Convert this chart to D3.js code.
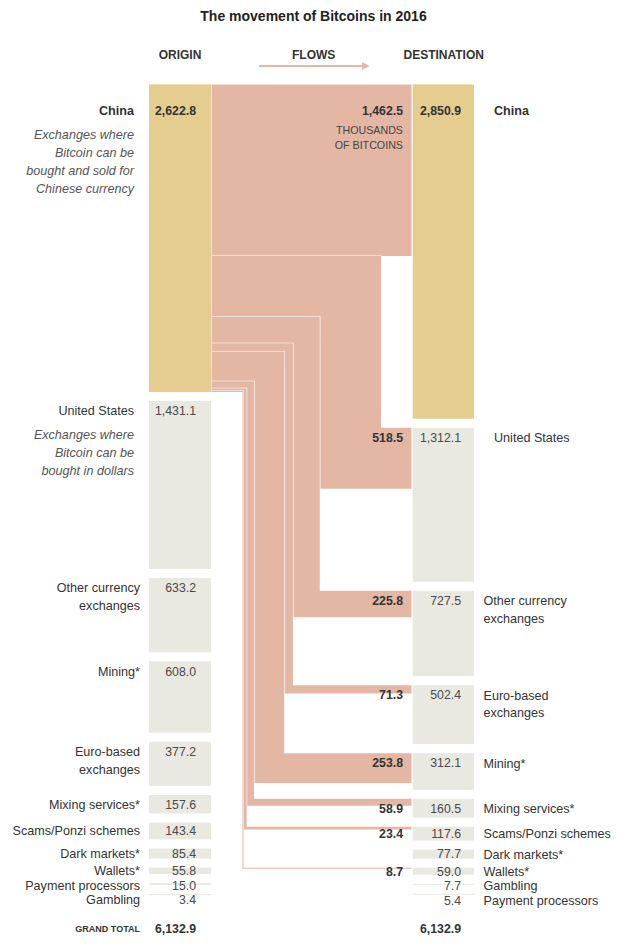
<!DOCTYPE html>
<html>
<head>
<meta charset="utf-8">
<script src="https://cdn.jsdelivr.net/npm/d3@7"></script>
<style>
    body { margin: 0; background: #fff; }
    text { font-family: "Liberation Sans", Arial, sans-serif; fill: #333; }
</style>
</head>
<body>
<div id="chart-container"></div>
<script>
// Origins of bitcoins (thousands), top to bottom. "|" marks a line break.
const originNames = ["China", "United States", "Other currency|exchanges", "Mining*",
    "Euro-based|exchanges", "Mixing services*", "Scams/Ponzi schemes", "Dark markets*",
    "Wallets*", "Payment processors", "Gambling"];
const originValues = [2622.8, 1431.1, 633.2, 608.0, 377.2, 157.6, 143.4, 85.4, 55.8, 15.0, 3.4];

// Destinations, top to bottom.
const destNames = ["China", "United States", "Other currency|exchanges", "Euro-based|exchanges",
    "Mining*", "Mixing services*", "Scams/Ponzi schemes", "Dark markets*", "Wallets*",
    "Gambling", "Payment processors"];
const destValues = [2850.9, 1312.1, 727.5, 502.4, 312.1, 160.5, 117.6, 77.7, 59.0, 7.7, 5.4];

// Flows out of China, in the order they leave the China bar.
const flowTargets = ["China", "United States", "Other currency|exchanges", "Euro-based|exchanges",
    "Mining*", "Mixing services*", "Scams/Ponzi schemes", "Wallets*"];
const flowValues = [1462.5, 518.5, 225.8, 71.3, 253.8, 58.9, 23.4, 8.7];

const descriptions = {
    "China": ["Exchanges where", "Bitcoin can be", "bought and sold for", "Chinese currency"],
    "United States": ["Exchanges where", "Bitcoin can be", "bought in dollars"]
};

const grandTotal = 6132.9;
const headers = ["ORIGIN", "FLOWS", "DESTINATION"];

const chartWidth = 627;
const chartHeight = 945;
const barsTop = 84.4;
const barGap = 9.07;
const fontSize = 12.3;
const labelSize = 12.6;

const colorChina = "#e5cd90";
const colorOther = "#e9e8e1";
const colorFlow = "#e4b7a5";

// Origin and destination columns.
const originX0 = 149, originX1 = 211;
const destX0 = 412.7, destX1 = 474;

// Bar height scale.
const h = d3.scaleLinear()
    .domain([0, grandTotal])
    .range([0, 719.3]);

const fmt = d3.format(",.1f");

function stack(names, values) {
    let y = barsTop;
    return names.map((name, i) => {
        const node = {name: name, value: values[i], y0: y, y1: y + h(values[i])};
        y = node.y1 + barGap;
        return node;
    });
}

// Text rows: near the top of each bar, pushed down so small bars don't collide.
function placeText(nodes) {
    let prev = -Infinity;
    nodes.forEach((n, i) => {
        let ty = i === 0 ? n.y0 + 26.5 : n.y0 + Math.min(10, (n.y1 - n.y0) / 2);
        ty = Math.max(ty, prev + 14.5);
        n.ty = ty;
        prev = ty;
    });
}

const origins = stack(originNames, originValues);
const dests = stack(destNames, destValues);
placeText(origins);
placeText(dests);

const chart = d3.select("#chart-container").append("svg")
    .attr("width", chartWidth)
    .attr("height", chartHeight);

// Title and headers.
chart.append("text")
    .attr("x", 313.5).attr("y", 16).attr("dy", "0.35em")
    .attr("text-anchor", "middle")
    .style("font-size", "14px").style("font-weight", "bold").style("fill", "#222")
    .text("The movement of Bitcoins in 2016");

const headerX = [180, 313.7, 443.7];
chart.selectAll(".header")
    .data(headers)
    .enter()
    .append("text")
    .attr("class", "header")
    .attr("x", (d, i) => headerX[i])
    .attr("y", 55).attr("dy", "0.35em")
    .attr("text-anchor", "middle")
    .style("font-size", "12px").style("font-weight", "bold")
    .text(d => d);

// Arrow under FLOWS.
chart.append("line")
    .attr("x1", 259).attr("x2", 363).attr("y1", 66).attr("y2", 66)
    .attr("stroke", colorFlow).attr("stroke-width", 2);
chart.append("path")
    .attr("d", "M 362 62 L 369.5 66 L 362 70 Z")
    .attr("fill", colorFlow);

// Flows: the first runs straight across, the rest bend down, nested inside each other.
const sourceNode = origins[0];
let sy = sourceNode.y0;
let outerX = 381;
const flowX0 = originX1 + 0.5;
const flowX1 = destX0 - 1.2;
const flows = flowValues.map((v, i) => {
    const target = dests.find(d => d.name === flowTargets[i]);
    const w = h(v);
    const f = {value: v, w: w, target: target, sy0: sy, sy1: sy + w};
    sy += w;
    const sm = f.sy0 + w / 2;
    const tm = target.y0 + w / 2;
    if (i === 0) {
        f.points = [[flowX0, sm], [flowX1, tm]];
    } else {
        f.points = [[flowX0, sm], [outerX - w / 2, sm], [outerX - w / 2, tm], [flowX1, tm]];
        outerX -= w + 0.4;
    }
    return f;
});

const line = d3.line();

const flowGroups = chart.selectAll(".flow")
    .data(flows)
    .enter()
    .append("g")
    .attr("class", "flow");

flowGroups.append("path")
    .attr("d", d => line(d.points))
    .attr("fill", "none")
    .attr("stroke", "#fff")
    .attr("stroke-width", d => d.w + 1)
    .attr("stroke-linejoin", "miter");

flowGroups.append("path")
    .attr("d", d => line(d.points))
    .attr("fill", "none")
    .attr("stroke", colorFlow)
    .attr("stroke-width", d => Math.max(d.w, 1))
    .attr("stroke-linejoin", "miter");

flowGroups.append("text")
    .attr("x", destX0 - 9.7)
    .attr("y", d => d.target.ty).attr("dy", "0.35em")
    .attr("text-anchor", "end")
    .style("font-size", fontSize + "px").style("font-weight", "bold")
    .text(d => fmt(d.value));

chart.selectAll(".unit")
    .data(["THOUSANDS", "OF BITCOINS"])
    .enter()
    .append("text")
    .attr("class", "unit")
    .attr("x", destX0 - 9.7)
    .attr("y", (d, i) => dests[0].ty + 19 + i * 15.5).attr("dy", "0.35em")
    .attr("text-anchor", "end")
    .style("font-size", "10.7px").style("fill", "#444")
    .text(d => d);

// Bars, values and labels for one column.
function drawColumn(nodes, x0, x1, side) {
    const g = chart.append("g").attr("class", side);

    g.selectAll("rect")
        .data(nodes)
        .enter()
        .append("rect")
        .attr("x", x0)
        .attr("y", d => d.y0)
        .attr("width", x1 - x0)
        .attr("height", d => Math.max(d.y1 - d.y0, 1))
        .attr("fill", d => d.name === "China" ? colorChina : colorOther);

    g.selectAll(".value")
        .data(nodes)
        .enter()
        .append("text")
        .attr("class", "value")
        .attr("x", x1 - (side === "origin" ? 15 : 13))
        .attr("y", d => d.ty).attr("dy", "0.35em")
        .attr("text-anchor", "end")
        .style("font-size", fontSize + "px")
        .style("font-weight", d => d.name === "China" ? "bold" : "normal")
        .style("fill", d => d.name === "China" ? "#333" : "#4a4a4a")
        .text(d => fmt(d.value));

    const labels = g.selectAll(".label")
        .data(nodes)
        .enter()
        .append("text")
        .attr("class", "label")
        .attr("text-anchor", side === "origin" ? "end" : "start")
        .style("font-size", labelSize + "px")
        .style("font-weight", d => d.name === "China" ? "bold" : "normal");

    labels.selectAll("tspan")
        .data(d => d.name.split("|").map((s, i) => ({s: s, i: i, node: d})))
        .enter()
        .append("tspan")
        .attr("x", d => {
            const wide = descriptions[d.node.name] != null;
            if (side === "origin") return wide ? 134 : 140;
            return wide ? 494 : 483.5;
        })
        .attr("y", d => d.node.ty + d.i * 17.8)
        .attr("dy", "0.35em")
        .text(d => d.s);
}

drawColumn(origins, originX0, originX1, "origin");
drawColumn(dests, destX0, destX1, "dest");

// Descriptions under China and United States origins.
origins.filter(d => descriptions[d.name]).forEach(d => {
    chart.append("g").selectAll("text")
        .data(descriptions[d.name])
        .enter()
        .append("text")
        .attr("x", 134)
        .attr("y", (s, i) => d.ty + 23.7 + i * 18).attr("dy", "0.35em")
        .attr("text-anchor", "end")
        .style("font-size", labelSize + "px").style("font-style", "italic").style("fill", "#555")
        .text(s => s);
});

// Grand totals.
chart.append("text")
    .attr("x", 140).attr("y", 929).attr("dy", "0.35em")
    .attr("text-anchor", "end")
    .style("font-size", "9px").style("font-weight", "bold")
    .text("GRAND TOTAL");

chart.selectAll(".total")
    .data([originX1 - 15, destX1 - 13])
    .enter()
    .append("text")
    .attr("class", "total")
    .attr("x", d => d)
    .attr("y", 929).attr("dy", "0.35em")
    .attr("text-anchor", "end")
    .style("font-size", fontSize + "px").style("font-weight", "bold")
    .text(fmt(grandTotal));
</script>
</body>
</html>
